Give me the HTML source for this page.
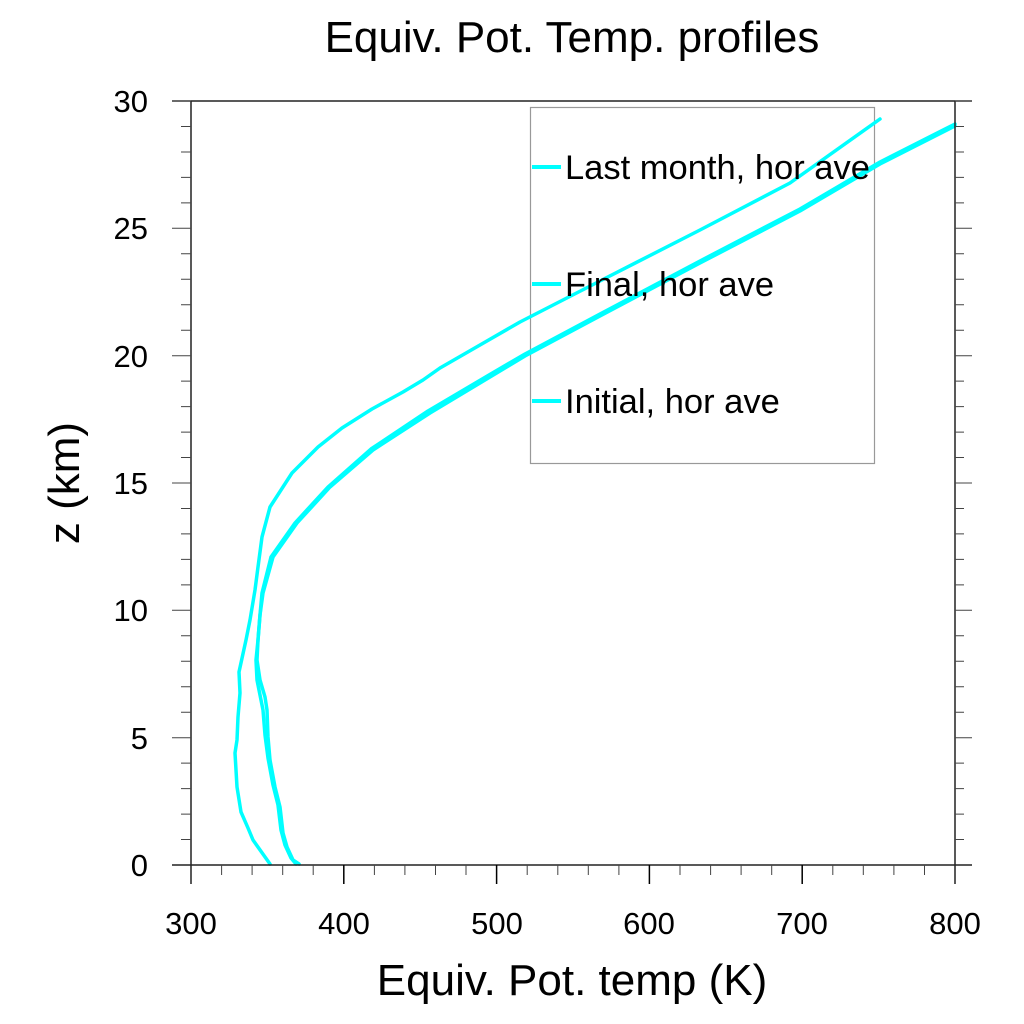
<!DOCTYPE html>
<html><head><meta charset="utf-8"><style>
html,body{margin:0;padding:0;background:#fff}
svg{display:block}
text{font-family:"Liberation Sans",sans-serif;fill:#000}
</style></head><body>
<svg width="1024" height="1024" viewBox="0 0 1024 1024">
<rect width="1024" height="1024" fill="#fff"/>
<text x="572" y="52" font-size="44" text-anchor="middle">Equiv. Pot. Temp. profiles</text>
<!-- legend box -->
<rect x="530.5" y="107.5" width="344" height="356" fill="none" stroke="#999" stroke-width="1.2"/>
<!-- curves -->
<g fill="none" stroke="#00ffff" stroke-linejoin="round" stroke-linecap="round">
<polyline stroke-width="3.5" points="270,864 253,840 248,828 241,812 237,787 235,753 237,740 238,717 240,693 239,672 246,640 250,620 255,590 258,567 262,537 270,507 292,473 318,447 342,428 372,409 403,392 423,380 440,368 480,345 520,322 600,281 700,230 790,183 880,119"/>
<polyline stroke-width="3.5" points="299,864 293,860 287,847 283,833 280,807 275,787 270,760 268,737 267,710 265,697 260,680 257,660 258,640 260,615 263,593 273,557 297,523 330,487 373,450 430,413 490,377 525,356 600,316 700,263 800,211 880,164 955,126"/>
<polyline stroke-width="3.5" points="296,864 291,858 285,845 281,830 278,805 273,785 268,758 265,735 263,710 260,695 257,680 256,660 258,640 260,615 262,593 271,557 295,523 328,487 371,449 428,411 489,375 525,354 600,314 700,261 800,209 880,162 955,124"/>
</g>
<!-- axes -->
<g stroke="#222" stroke-width="1.5" fill="none">
<line x1="172" y1="101" x2="972" y2="101"/>
<line x1="172" y1="865" x2="972" y2="865"/>
<line x1="191" y1="101" x2="191" y2="884"/>
<line x1="955" y1="101" x2="955" y2="884"/>
</g>
<g stroke="#444" stroke-width="1">
<path d="M172 101H191M172 228.3H191M172 355.7H191M172 483H191M172 610.3H191M172 737.7H191M955 101H972M955 228.3H972M955 355.7H972M955 483H972M955 610.3H972M955 737.7H972"/>
<path d="M181 126.5H191M181 152H191M181 177.4H191M181 202.9H191M181 253.8H191M181 279.3H191M181 304.7H191M181 330.2H191M181 381.1H191M181 406.6H191M181 432.1H191M181 457.5H191M181 508.5H191M181 533.9H191M181 559.4H191M181 584.9H191M181 635.8H191M181 661.3H191M181 686.7H191M181 712.2H191M181 763.1H191M181 788.6H191M181 814.1H191M181 839.5H191"/>
<path d="M955 126.5H964M955 152H964M955 177.4H964M955 202.9H964M955 253.8H964M955 279.3H964M955 304.7H964M955 330.2H964M955 381.1H964M955 406.6H964M955 432.1H964M955 457.5H964M955 508.5H964M955 533.9H964M955 559.4H964M955 584.9H964M955 635.8H964M955 661.3H964M955 686.7H964M955 712.2H964M955 763.1H964M955 788.6H964M955 814.1H964M955 839.5H964"/>
<path d="M343.8 865V884M496.6 865V884M649.4 865V884M802.2 865V884" stroke="#000" stroke-width="1.5"/>
<path d="M221.6 865V875M252.1 865V875M282.7 865V875M313.2 865V875M374.4 865V875M404.9 865V875M435.5 865V875M466 865V875M527.2 865V875M557.8 865V875M588.3 865V875M618.9 865V875M680 865V875M710.6 865V875M741.1 865V875M771.7 865V875M832.8 865V875M863.3 865V875M893.9 865V875M924.5 865V875"/>
</g>
<g font-size="31">
<text x="148" y="112" text-anchor="end">30</text>
<text x="148" y="239" text-anchor="end">25</text>
<text x="148" y="367" text-anchor="end">20</text>
<text x="148" y="494" text-anchor="end">15</text>
<text x="148" y="621" text-anchor="end">10</text>
<text x="148" y="749" text-anchor="end">5</text>
<text x="148" y="876" text-anchor="end">0</text>
<text x="191" y="934" text-anchor="middle">300</text>
<text x="344" y="934" text-anchor="middle">400</text>
<text x="497" y="934" text-anchor="middle">500</text>
<text x="649" y="934" text-anchor="middle">600</text>
<text x="802" y="934" text-anchor="middle">700</text>
<text x="955" y="934" text-anchor="middle">800</text>
</g>
<text x="572" y="995" font-size="44" text-anchor="middle">Equiv. Pot. temp (K)</text>
<text transform="translate(79,483) rotate(-90)" font-size="44" text-anchor="middle">z (km)</text>
<g stroke="#00ffff" stroke-width="4">
<line x1="532" y1="167" x2="561" y2="167"/>
<line x1="532" y1="284" x2="561" y2="284"/>
<line x1="532" y1="401" x2="561" y2="401"/>
</g>
<g font-size="34.5">
<text x="565" y="179">Last month, hor ave</text>
<text x="565" y="296">Final, hor ave</text>
<text x="565" y="413">Initial, hor ave</text>
</g>
</svg>
</body></html>
